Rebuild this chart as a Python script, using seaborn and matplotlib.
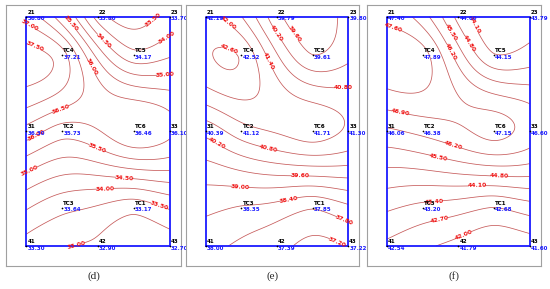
import numpy as np
import pandas as pd
import matplotlib
matplotlib.use('Agg')
import matplotlib.pyplot as plt
import seaborn as sns

sns.set_style('white')
plt.rcParams['font.family'] = ['DejaVu Sans']

# measuring points (x across, y up) - same layout for the three cases
names = ['21', '22', '23', 'TC4', 'TC5', '31', 'TC2', 'TC6', '33', 'TC3', 'TC1', '41', '42', '43']
px = [0, 2, 4, 1, 3, 0, 1, 3, 4, 1, 3, 0, 2, 4]
py = [6, 6, 6, 5, 5, 3, 3, 3, 3, 1, 1, 0, 0, 0]

# temperatures
d_vals = [36.80, 33.80, 33.70, 37.21, 34.17, 36.30, 35.73, 36.46, 36.10, 33.64, 33.17, 33.30, 32.90, 32.70]
e_vals = [42.19, 39.79, 39.80, 42.52, 39.61, 40.39, 41.12, 41.71, 41.30, 38.35, 37.85, 38.00, 37.39, 37.22]
f_vals = [47.40, 44.60, 43.79, 47.89, 44.15, 46.06, 46.38, 47.15, 46.60, 43.20, 42.68, 42.54, 41.79, 41.60]

panel_tags = ['(d)', '(e)', '(f)']
level_start = [32.5, 37.2, 42.0]
level_step = [0.5, 0.6, 0.7]


def tps_surface(x, y, v, gx, gy):
    # thin plate spline through the measured points
    x = np.asarray(x, float); y = np.asarray(y, float); v = np.asarray(v, float)
    n = len(x)
    def phi(r):
        out = np.zeros_like(r)
        m = r > 0
        out[m] = r[m] ** 2 * np.log(r[m])
        return out
    r = np.hypot(x[:, None] - x[None, :], y[:, None] - y[None, :])
    K = phi(r)
    P = np.column_stack([np.ones(n), x, y])
    A = np.zeros((n + 3, n + 3))
    A[:n, :n] = K; A[:n, n:] = P; A[n:, :n] = P.T
    b = np.concatenate([v, np.zeros(3)])
    sol = np.linalg.solve(A, b)
    w, a = sol[:n], sol[n:]
    rg = np.hypot(gx[..., None] - x, gy[..., None] - y)
    return phi(rg) @ w + a[0] + a[1] * gx + a[2] * gy


fig = plt.figure(figsize=(5.5, 2.89), dpi=100)
ax_pos = [[0.011, 0.080, 0.318, 0.903],
          [0.338, 0.080, 0.315, 0.903],
          [0.667, 0.080, 0.316, 0.903]]

gx, gy = np.meshgrid(np.linspace(min(px), max(px), 220), np.linspace(min(py), max(py), 330))

for i, vals in enumerate([d_vals, e_vals, f_vals]):
    ax = fig.add_axes(ax_pos[i])
    df = pd.DataFrame({'name': names, 'x': px, 'y': py, 'val': vals})
    gz = tps_surface(df.x, df.y, df.val, gx, gy)
    levels = np.arange(level_start[i], max(vals) + level_step[i], level_step[i])
    cs = ax.contour(gx, gy, gz, levels=levels, colors='#c65a5a', linewidths=0.55)
    lbl = ax.clabel(cs, fmt='%.2f', fontsize=4.3, inline=True, inline_spacing=1)
    for t in lbl:
        t.set_color('#ee1111')
        t.set_fontweight('bold')

    # blue boundary of the measured area
    x0, x1, y0, y1 = df.x.min(), df.x.max(), df.y.min(), df.y.max()
    ax.plot([x0, x1, x1, x0, x0], [y0, y0, y1, y1, y0], color='#1a1aff', lw=1.3, zorder=3)

    sns.scatterplot(data=df, x='x', y='y', ax=ax, color='black', s=1.5, linewidth=0, zorder=5)
    for _, row in df.iterrows():
        ax.annotate(row['name'], (row.x, row.y), xytext=(0.8, 1.6), textcoords='offset points',
                    fontsize=4, color='black', fontweight='bold', va='bottom', ha='left', zorder=6)
        ax.annotate('%.2f' % row.val, (row.x, row.y), xytext=(0.8, 0.3), textcoords='offset points',
                    fontsize=4, color='#1a1aff', fontweight='bold', va='top', ha='left', zorder=6)

    ax.set_xlim(x0 - 0.56, x1 + 0.31)
    ax.set_ylim(y0 - 0.52, y1 + 0.31)
    ax.set_xticks([]); ax.set_yticks([])
    ax.set_xlabel(''); ax.set_ylabel('')
    for sp in ax.spines.values():
        sp.set_color('#a0a0a0')
        sp.set_linewidth(0.8)
    fig.text(ax_pos[i][0] + ax_pos[i][2] / 2, 0.045, panel_tags[i], ha='center', va='center',
             fontsize=8, family='Liberation Serif')

fig.savefig('out.png', dpi=100)
